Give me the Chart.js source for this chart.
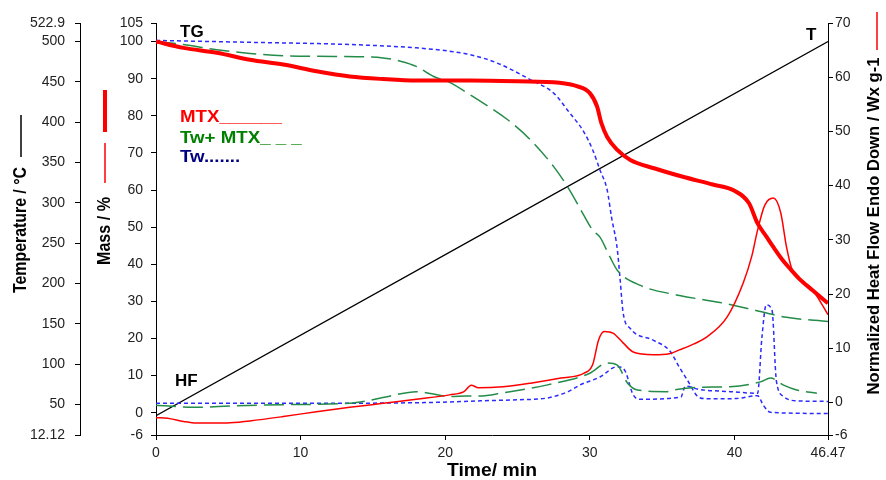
<!DOCTYPE html>
<html>
<head>
<meta charset="utf-8">
<script src="https://cdn.jsdelivr.net/npm/chart.js@4.4.1/dist/chart.umd.min.js"></script>
<style>
  html, body { margin: 0; padding: 0; background: #fff; }
  #wrap { width: 886px; height: 480px; }
</style>
</head>
<body>
<div id="wrap"><canvas id="tgChart" width="886" height="480"></canvas></div>
<script>
// tick labels
const timeTicks = [0, 10, 20, 30, 40, 46.47];
const tempTicks = [12.12, 50, 100, 150, 200, 250, 300, 350, 400, 450, 500, 522.9];
const massTicks = [-6, 0, 10, 20, 30, 40, 50, 60, 70, 80, 90, 100, 105];
const hfTicks = [-6, 0, 10, 20, 30, 40, 50, 60, 70];

// T - temperature program (°C)
const tempTime = [0, 46.47];
const tempValues = [36, 500];

// MTX - TG (mass %)
const mtxTgTime = [0, 1.9, 4.2, 6.5, 8.8, 11.1, 13.4, 15.7, 18, 21.7, 25, 27.9, 29.1, 30, 30.5, 30.8, 31.2, 31.9, 32.8, 34.5, 36.5, 38.5, 40, 41, 41.6, 42.2, 42.7, 43.3, 43.8, 44.5, 45.4, 46.47];
const mtxTgMass = [100, 98.3, 97, 95.1, 93.8, 92, 90.6, 89.9, 89.5, 89.5, 89.3, 88.9, 88, 86.1, 82.5, 78, 74.3, 70.8, 68.1, 65.8, 63.5, 61.5, 59.8, 56.5, 51, 47.5, 44.6, 41.3, 39, 36, 33, 29.5];

// MTX - heat flow (W/g)
const mtxHfTime = [0, 0.8, 1.9, 2.8, 4.9, 6.5, 8.8, 11.1, 13.4, 15.7, 18, 20.3, 21.3, 21.8, 22.3, 24, 26, 28, 29.6, 30.2, 30.6, 31, 31.6, 32.3, 33, 34.4, 35.5, 36.2, 37.2, 38.1, 39.5, 40.6, 41.2, 41.6, 42.1, 42.7, 43.2, 43.6, 44, 44.7, 45.4, 46.47];
const mtxHfValues = [-2.8, -2.9, -3.5, -3.8, -3.8, -3.4, -2.6, -1.7, -0.9, -0.15, 0.6, 1.4, 2, 3.2, 2.7, 2.9, 3.6, 4.5, 5.4, 7, 11.5, 13.1, 12.8, 11, 9.3, 8.8, 9, 9.7, 10.8, 12.1, 15.8, 22, 27, 31.8, 36.4, 37.7, 35, 28.7, 24.4, 22.5, 20.8, 16.2];

// Tw + MTX - TG
const mixTgTime = [0, 1.9, 4.2, 6.5, 8.8, 12.3, 15.7, 16.9, 18, 19.2, 20.3, 21.9, 24.3, 25.9, 27.5, 28.6, 29.5, 30.2, 30.7, 31.4, 31.9, 33.5, 36.2, 39, 40.9, 43.6, 46.47];
const mixTgMass = [100, 99.2, 97.8, 96.8, 96.2, 96, 95.6, 94.7, 93.3, 90.6, 89, 85.2, 79, 73.5, 66.3, 60, 53.8, 49.2, 47.3, 41.9, 38.4, 34.3, 31.6, 29.7, 28.1, 25.7, 24.6];

// Tw + MTX - heat flow
const mixHfTime = [0, 2.6, 5.4, 8.8, 13.4, 14.6, 16.2, 18, 19.1, 20.3, 21.5, 22.4, 24, 27, 30, 31.2, 31.9, 32.6, 33.3, 35.3, 36, 37.6, 39.7, 41.8, 42.5, 43.4, 44.3, 45.7];
const mixHfValues = [-0.5, -0.9, -0.6, -0.4, -0.15, 0.3, 1.2, 2.0, 1.6, 1.1, 1.2, 1.2, 1.8, 3.2, 5.4, 7.3, 6.9, 3.6, 2.3, 2.0, 2.4, 2.8, 2.9, 3.8, 4.5, 3.2, 2.3, 1.7];

// Tw - TG
const twTgTime = [0, 6.5, 13.4, 18, 20.3, 21.7, 23.6, 25.9, 27.5, 28.6, 29.5, 30.2, 30.7, 31.2, 31.5, 31.9, 32.1, 32.3, 32.8, 34.4, 35.5, 36.2, 36.9, 37.4, 38, 40, 41.6, 42, 42.5, 46.47];
const twTgMass = [100.3, 99.8, 99.2, 98.3, 97.4, 96.5, 94.2, 89.7, 86.1, 80.8, 76.2, 70.8, 65.4, 60, 52.7, 44, 35.7, 27, 22.7, 19.5, 16.8, 12.2, 7.8, 4.6, 3.8, 3.8, 4.6, 2, 0.1, -0.2];

// Tw - heat flow
const twHfTime = [0, 10, 19, 22.4, 25, 27, 28.5, 29.3, 30.7, 31.9, 32.4, 33, 33.5, 36.3, 36.6, 37.6, 39.7, 41.6, 41.9, 42.2, 42.6, 42.9, 43.4, 44.3, 46.47];
const twHfValues = [-0.15, -0.15, 0, 0.3, 0.5, 0.8, 2, 3.2, 4.7, 6.6, 6, 1.4, 0.6, 1, 3, 2.4, 2.0, 1.7, 12, 18, 17, 4, 1.1, 0.3, 0.2];

const RED = '#ff0000';
const GREEN = '#238c48';
const BLUE = '#2b2bff';

const sans = '"Liberation Sans", Arial, sans-serif';
const tickFont = { family: sans, size: 14 };

function pts(xs, ys) {
  return xs.map((x, i) => ({ x: x, y: ys[i] }));
}

// pin the tick values to the lists above
function fixedTicks(list) {
  return scale => { scale.ticks = list.map(v => ({ value: v })); };
}

function axisLook(list, pad) {
  return {
    afterBuildTicks: fixedTicks(list),
    ticks: { font: tickFont, color: '#222', padding: pad, autoSkip: false, callback: v => String(v) },
    grid: { drawOnChartArea: false, tickLength: 5, color: '#000' },
    border: { color: '#000', width: 1 }
  };
}

// axis titles, curve labels and the little legend
const annotations = {
  id: 'annotations',
  afterDraw(chart) {
    const ctx = chart.ctx;
    ctx.save();

    // bold text squeezed/stretched to a given length, optionally turned upright
    function fitText(text, cx, cy, size, len, upright) {
      ctx.save();
      ctx.font = 'bold ' + size + 'px ' + sans;
      const w = ctx.measureText(text).width;
      ctx.translate(cx, cy);
      if (upright) ctx.rotate(-Math.PI / 2);
      ctx.scale(len / w, 1);
      ctx.fillStyle = '#000';
      ctx.textAlign = 'center';
      ctx.textBaseline = 'middle';
      ctx.fillText(text, 0, 0);
      ctx.restore();
    }
    function seg(x1, y1, x2, y2, color, w) {
      ctx.beginPath();
      ctx.strokeStyle = color;
      ctx.lineWidth = w;
      ctx.moveTo(x1, y1);
      ctx.lineTo(x2, y2);
      ctx.stroke();
    }
    function txt(text, x, y, color, size, sx) {
      ctx.save();
      ctx.font = 'bold ' + size + 'px ' + sans;
      ctx.fillStyle = color;
      ctx.textAlign = 'left';
      ctx.textBaseline = 'alphabetic';
      ctx.translate(x, y);
      ctx.scale(sx || 1, 1);
      ctx.fillText(text, 0, 0);
      ctx.restore();
    }

    fitText('Temperature / °C', 21, 230, 18, 126, true);
    seg(21, 157, 21, 115, '#000', 1.5);

    fitText('Mass / %', 105, 231, 18, 68, true);
    seg(105, 90, 105, 132, RED, 4);
    seg(105, 143, 105, 183, RED, 1.5);

    fitText('Normalized Heat Flow Endo Down / Wx g-1', 874, 226, 17, 337, true);
    seg(877, 12, 877, 50, RED, 1.5);

    fitText('Time/ min', 492, 471, 18, 90, false);

    txt('TG', 180, 37, '#000', 17);
    txt('T', 806, 40, '#000', 17);
    txt('HF', 175, 386, '#000', 17);

    txt('MTX______', 180, 122, RED, 17, 1.1);
    txt('Tw+ MTX_ _ _', 180, 143, '#008000', 17, 1.1);
    txt('Tw.......', 180, 162, '#000080', 17, 1.1);

    ctx.restore();
  }
};

const ctx = document.getElementById('tgChart').getContext('2d');
const chart = new Chart(ctx, {
  type: 'line',
  data: {
    datasets: [
      { label: 'MTX TG', data: pts(mtxTgTime, mtxTgMass), yAxisID: 'yMass', borderColor: RED, borderWidth: 4 },
      { label: 'MTX HF', data: pts(mtxHfTime, mtxHfValues), yAxisID: 'yHF', borderColor: RED, borderWidth: 1.5 },
      { label: 'Tw+ MTX TG', data: pts(mixTgTime, mixTgMass), yAxisID: 'yMass', borderColor: GREEN, borderWidth: 1.5, borderDash: [20, 7] },
      { label: 'Tw+ MTX HF', data: pts(mixHfTime, mixHfValues), yAxisID: 'yHF', borderColor: GREEN, borderWidth: 1.5, borderDash: [20, 7] },
      { label: 'Tw TG', data: pts(twTgTime, twTgMass), yAxisID: 'yMass', borderColor: BLUE, borderWidth: 1.5, borderDash: [4, 3] },
      { label: 'Tw HF', data: pts(twHfTime, twHfValues), yAxisID: 'yHF', borderColor: BLUE, borderWidth: 1.5, borderDash: [4, 3] },
      { label: 'T', data: pts(tempTime, tempValues), yAxisID: 'yTemp', borderColor: '#000', borderWidth: 1.2 }
    ]
  },
  options: {
    responsive: false,
    animation: false,
    layout: { padding: { top: 23, left: 0, right: 0, bottom: 0 } },
    elements: {
      point: { radius: 0 },
      line: { cubicInterpolationMode: 'monotone', fill: false }
    },
    plugins: {
      legend: { display: false },
      tooltip: { enabled: false }
    },
    scales: {
      x: Object.assign({
        type: 'linear', min: 0, max: 46.47,
        afterFit: s => { s.height = 45; }
      }, axisLook(timeTicks, 5)),
      yTemp: Object.assign({
        type: 'linear', position: 'left', weight: 2, min: 12.12, max: 522.9,
        afterFit: s => { s.width = 80; }
      }, axisLook(tempTicks, 10)),
      yMass: Object.assign({
        type: 'linear', position: 'left', weight: 1, min: -6, max: 105,
        afterFit: s => { s.width = 76; }
      }, axisLook(massTicks, 8)),
      yHF: Object.assign({
        type: 'linear', position: 'right', min: -6, max: 70,
        afterFit: s => { s.width = 58; }
      }, axisLook(hfTicks, 2))
    }
  },
  plugins: [annotations]
});
</script>
</body>
</html>
